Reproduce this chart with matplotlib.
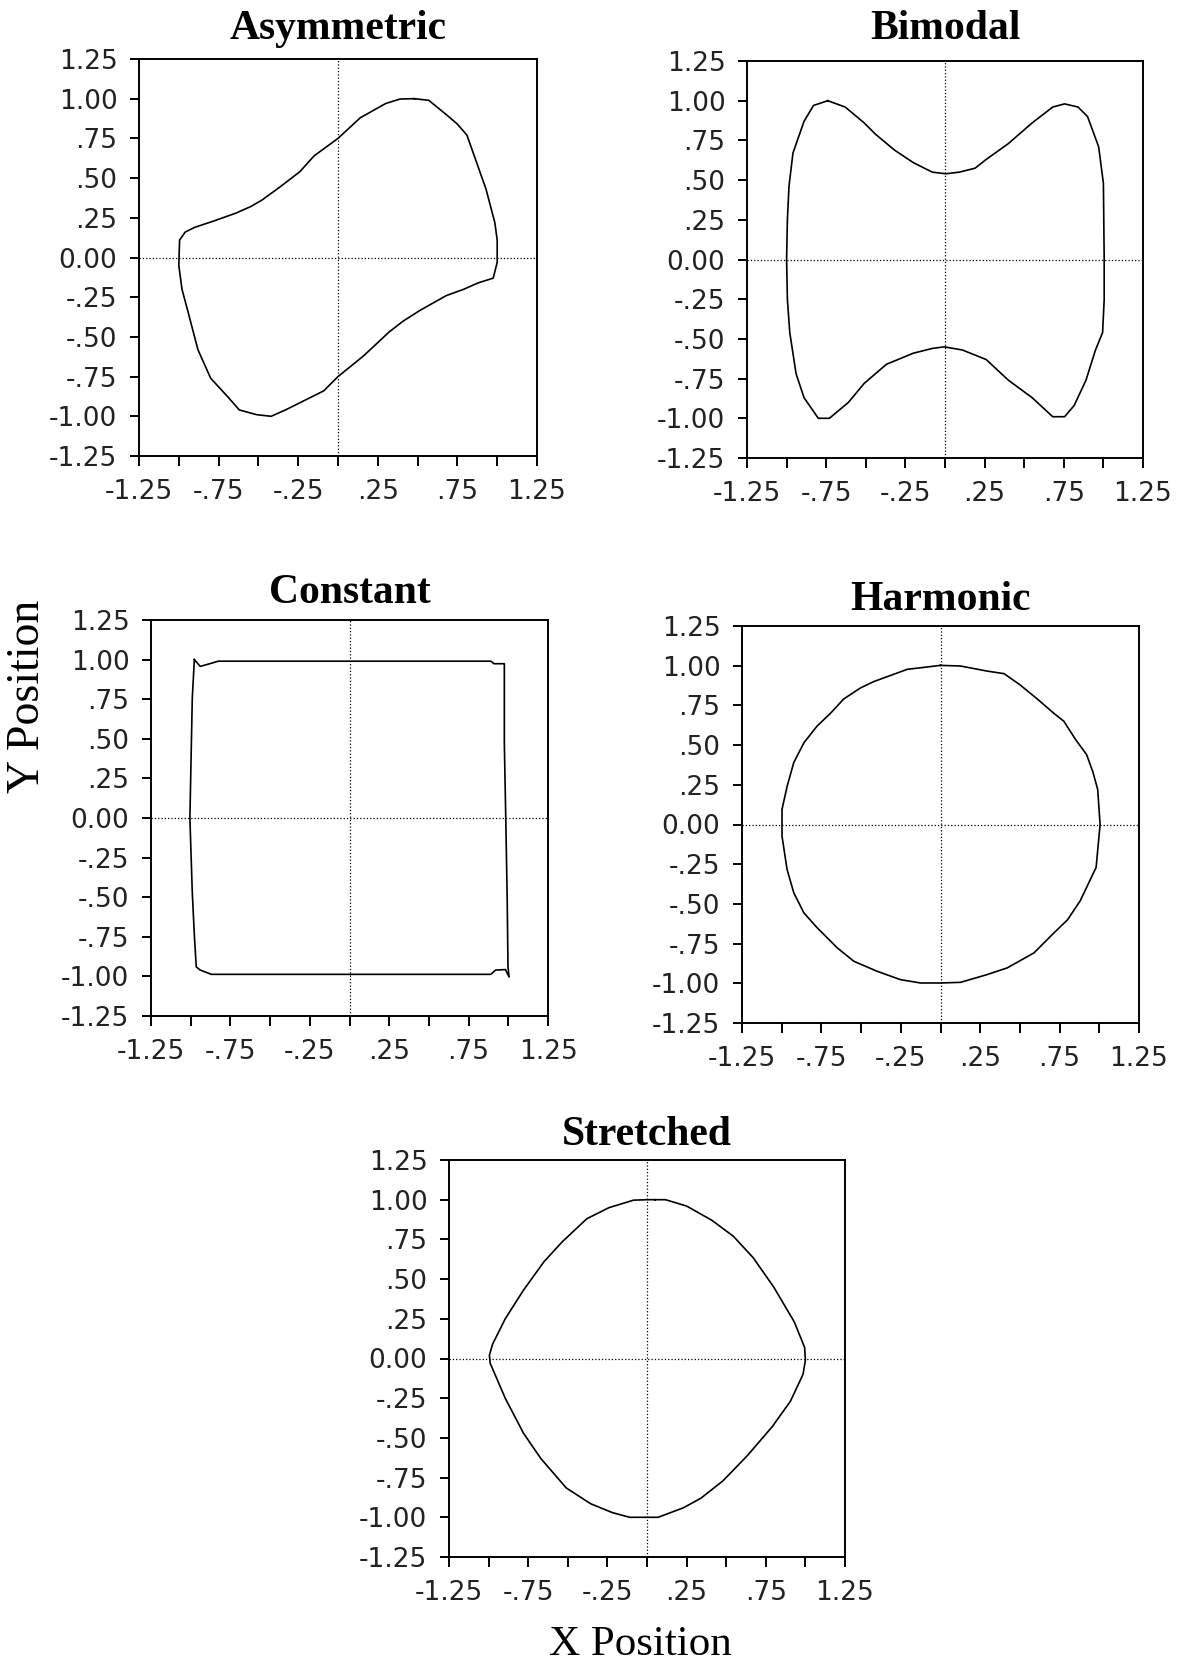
import numpy as np
import matplotlib as mpl
mpl.use('Agg')
import matplotlib.pyplot as plt

# phase-plane curves
asym_x = [0.48, 0.57, 0.68, 0.75, 0.81, 0.87, 0.93, 0.985, 1.00, 1.00, 0.975, 0.88, 0.79, 0.68,
          0.52, 0.41, 0.32, 0.16, 0.0, -0.09, -0.19, -0.33, -0.42, -0.51, -0.62, -0.69, -0.80,
          -0.88, -0.94, -0.98, -1.00, -0.995, -0.96, -0.90, -0.78, -0.64, -0.55, -0.48, -0.37,
          -0.24, -0.15, 0.0, 0.14, 0.30, 0.39, 0.48]
asym_y = [1.00, 0.99, 0.90, 0.84, 0.77, 0.60, 0.43, 0.22, 0.11, -0.03, -0.13, -0.16, -0.20, -0.24,
          -0.33, -0.40, -0.47, -0.62, -0.75, -0.84, -0.89, -0.96, -1.00, -0.99, -0.96, -0.88, -0.76,
          -0.58, -0.35, -0.20, -0.05, 0.11, 0.16, 0.19, 0.23, 0.28, 0.32, 0.36, 0.44,
          0.54, 0.64, 0.75, 0.88, 0.97, 0.998, 1.00]

bimo_x = [-0.74, -0.83, -0.89, -0.96, -0.985, -0.995, -1.00, -0.995, -0.98, -0.94, -0.89, -0.80,
          -0.73, -0.61, -0.51, -0.37, -0.20, -0.08, -0.005, 0.11, 0.26, 0.40, 0.55, 0.68, 0.755,
          0.815, 0.89, 0.95, 0.995, 1.005, 1.005, 1.00, 0.97, 0.90, 0.84, 0.755, 0.68, 0.55, 0.40,
          0.26, 0.19, 0.09, 0.005, -0.08, -0.20, -0.32, -0.44, -0.51, -0.63, -0.74]
bimo_y = [1.00, 0.97, 0.87, 0.67, 0.46, 0.25, 0.0, -0.25, -0.46, -0.72, -0.87, -1.00,
          -1.00, -0.90, -0.78, -0.66, -0.59, -0.56, -0.55, -0.57, -0.63, -0.76, -0.87, -0.99, -0.99,
          -0.92, -0.76, -0.57, -0.46, -0.25, 0.0, 0.48, 0.71, 0.90, 0.96, 0.98, 0.96, 0.86, 0.73,
          0.63, 0.575, 0.55, 0.54, 0.55, 0.61, 0.69, 0.79, 0.86, 0.96, 1.00]

const_x = [-0.977, -0.94, -0.88, -0.826, 0.0, 0.89, 0.91, 0.975, 0.975, 0.984, 0.993, 0.998,
           1.005, 0.982, 0.92, 0.89, 0.0, -0.87, -0.94, -0.965, -0.977, -0.99, -1.0, -1.005,
           -1.0, -0.99, -0.977]
const_y = [1.00, 0.957, 0.974, 0.99, 0.99, 0.99, 0.974, 0.974, 0.474, 0.0, -0.504, -0.94,
           -1.004, -0.957, -0.96, -0.987, -0.987, -0.987, -0.96, -0.94, -0.74, -0.47, -0.16, 0.0,
           0.257, 0.757, 1.00]

harm_x = [0.0, 0.126, 0.294, 0.40, 0.50, 0.61, 0.714, 0.777, 0.85, 0.92, 0.96, 0.99, 1.005, 0.98,
          0.88, 0.80, 0.714, 0.588, 0.42, 0.294, 0.126, 0.0, -0.126, -0.252, -0.40, -0.546, -0.65,
          -0.777, -0.86, -0.924, -0.966, -0.998, -0.998, -0.966, -0.924, -0.86, -0.777, -0.693,
          -0.61, -0.504, -0.42, -0.21, 0.0]
harm_y = [1.002, 0.998, 0.966, 0.95, 0.88, 0.79, 0.70, 0.65, 0.536, 0.44, 0.33, 0.22, 0.0, -0.27,
          -0.48, -0.60, -0.683, -0.809, -0.903, -0.945, -0.994, -0.998, -0.998, -0.977, -0.924,
          -0.861, -0.777, -0.65, -0.557, -0.43, -0.284, -0.074, 0.095, 0.24, 0.39, 0.515, 0.62,
          0.70, 0.79, 0.86, 0.90, 0.977, 1.002]

str_x = [0.05, 0.117, 0.25, 0.41, 0.545, 0.67, 0.80, 0.93, 0.995, 1.0, 0.985, 0.905, 0.79, 0.635,
         0.48, 0.34, 0.23, 0.07, -0.11, -0.22, -0.355, -0.51, -0.67, -0.78, -0.895, -0.99, -0.995,
         -0.975, -0.895, -0.78, -0.65, -0.535, -0.38, -0.24, -0.085, 0.0, 0.05]
str_y = [1.0, 1.0, 0.96, 0.87, 0.77, 0.635, 0.45, 0.23, 0.07, -0.01, -0.10, -0.27, -0.43, -0.61,
         -0.77, -0.88, -0.94, -1.0, -1.0, -0.97, -0.915, -0.815, -0.63, -0.47, -0.25, -0.03, 0.02,
         0.09, 0.25, 0.43, 0.61, 0.735, 0.88, 0.95, 0.997, 1.0, 1.0]

titles = ['Asymmetric', 'Bimodal', 'Constant', 'Harmonic', 'Stretched']
curves = [(asym_x, asym_y), (bimo_x, bimo_y), (const_x, const_y), (harm_x, harm_y), (str_x, str_y)]

ticks = np.arange(-1.25, 1.26, 0.25)
y_labels = ['-1.25', '-1.00', '-.75', '-.50', '-.25', '0.00', '.25', '.50', '.75', '1.00', '1.25']
x_labels = ['-1.25', '', '-.75', '', '-.25', '', '.25', '', '.75', '', '1.25']

W, H = 1181, 1663
# axes boxes in pixels: left, top, right, bottom
boxes = [(139, 59, 537, 456), (747, 61, 1143, 458), (151, 620, 548, 1016),
         (742, 626, 1139, 1023), (449, 1160, 845, 1557)]
title_pads = [14.2, 15.6, 11.9, 11.5, 11]

fig = plt.figure(figsize=(W / 100, H / 100), dpi=100)

for (x, y), title, (l, t, r, b), tp in zip(curves, titles, boxes, title_pads):
    ax = fig.add_axes([l / W, 1 - b / H, (r - l) / W, (b - t) / H])
    ax.plot(x, y, color='k', lw=1.2)
    ax.axhline(0, color='k', lw=0.9, ls=':')
    ax.axvline(0, color='k', lw=0.9, ls=':')
    ax.set_xlim(-1.25, 1.25)
    ax.set_ylim(-1.25, 1.25)
    ax.set_xticks(ticks)
    ax.set_xticklabels(x_labels)
    ax.set_yticks(ticks)
    ax.set_yticklabels(y_labels)
    ax.tick_params(direction='out', width=1.4, labelsize=19, labelcolor='#222222')
    ax.tick_params(axis='x', length=7.5, pad=9)
    ax.tick_params(axis='y', length=6.5, pad=9)
    for sp in ax.spines.values():
        sp.set_linewidth(1.4)
    ax.set_title(title, fontsize=30, fontweight='bold', family='Liberation Serif', pad=tp)

fig.text(28 / W, 1 - 696 / H, 'Y Position', rotation=90, ha='center', va='center',
         fontsize=33, family='Liberation Serif')
fig.text(640 / W, 1 - 1655 / H, 'X Position', ha='center', va='baseline',
         fontsize=31, family='Liberation Serif')

fig.savefig('out.png', dpi=100)
